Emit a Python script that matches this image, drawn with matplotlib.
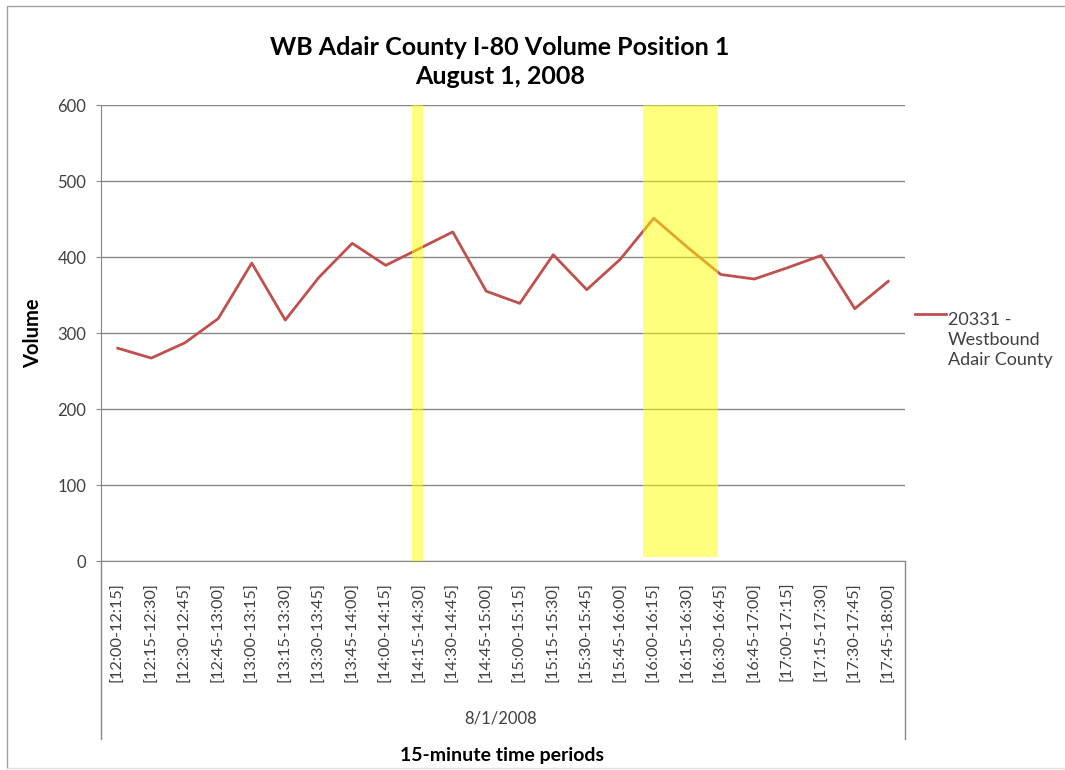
import matplotlib

matplotlib.use("Agg")

import matplotlib.pyplot as plt
from matplotlib.lines import Line2D
from matplotlib.patches import Rectangle

periods = [
    "[12:00-12:15]", "[12:15-12:30]", "[12:30-12:45]", "[12:45-13:00]",
    "[13:00-13:15]", "[13:15-13:30]", "[13:30-13:45]", "[13:45-14:00]",
    "[14:00-14:15]", "[14:15-14:30]", "[14:30-14:45]", "[14:45-15:00]",
    "[15:00-15:15]", "[15:15-15:30]", "[15:30-15:45]", "[15:45-16:00]",
    "[16:00-16:15]", "[16:15-16:30]", "[16:30-16:45]", "[16:45-17:00]",
    "[17:00-17:15]", "[17:15-17:30]", "[17:30-17:45]", "[17:45-18:00]",
]
volume = [280, 267, 287, 319, 392, 317, 373, 418, 389, 411, 433, 355,
          339, 403, 357, 397, 451, 413, 377, 371, 386, 402, 332, 368]
yticks = [0, 100, 200, 300, 400, 500, 600]
# highlighted spans, in category units
highlights = [(8.78, 9.12, 0.0), (15.69, 17.91, 5.0)]

plt.rcParams["font.family"] = ["Lato", "DejaVu Sans"]
W, H = 1065, 770
fig = plt.figure(figsize=(W / 100, H / 100), dpi=100)

# plot area in pixel terms of the reference
left, right, top, bottom = 101, 905, 105, 561
ax = fig.add_axes([left / W, 1 - bottom / H, (right - left) / W, (bottom - top) / H])

x = list(range(len(periods)))
ax.plot(x, volume, color="#C0504D", linewidth=2.0, zorder=3)
for x0, x1, y0 in highlights:
    ax.add_patch(Rectangle((x0, y0), x1 - x0, 600 - y0, facecolor="#FFFF00",
                           alpha=0.5, edgecolor="none", zorder=4, clip_on=False))

ax.set_xlim(-0.5, len(periods) - 0.5)
ax.set_ylim(0, 600)
ax.set_yticks(yticks)
ax.set_xticks(x)
ax.set_xticklabels(periods, rotation=90, fontsize=11.7, color="#404040")
ax.tick_params(axis="x", length=0, pad=15)
ax.tick_params(axis="y", length=3.6, color="#868686", labelsize=12,
               labelcolor="#404040", pad=7)
ax.yaxis.grid(True, color="#868686", linewidth=1.0)
ax.set_axisbelow(True)
for side in ("top", "right"):
    ax.spines[side].set_visible(False)
for side in ("left", "bottom"):
    ax.spines[side].set_color("#868686")

# multi-level category box
box_bottom = (bottom - 739) / (bottom - top)
ax.add_line(Line2D([0, 0], [0, box_bottom], transform=ax.transAxes,
                   color="#868686", linewidth=1.0, clip_on=False))
ax.add_line(Line2D([1, 1], [0, box_bottom], transform=ax.transAxes,
                   color="#868686", linewidth=1.0, clip_on=False))
fig.text(501 / W, 1 - 718 / H, "8/1/2008", ha="center", va="center",
         fontsize=12, color="#404040")

fig.text(500 / W, 1 - 62 / H, "WB Adair County I-80 Volume Position 1\nAugust 1, 2008",
         ha="center", va="center", fontsize=18, fontweight="bold", linespacing=1.35)
fig.text(502 / W, 1 - 755 / H, "15-minute time periods", ha="center", va="center",
         fontsize=14, fontweight="bold")
fig.text(33 / W, 1 - 333 / H, "Volume", ha="center", va="center", rotation=90,
         fontsize=14.5, fontweight="bold")

# legend
fig.add_artist(Line2D([915 / W, 946 / W], [1 - 314 / H, 1 - 314 / H],
                      color="#C0504D", linewidth=2.0))
fig.text(948 / W, 1 - 340 / H, "20331 -\nWestbound\nAdair County", ha="left", va="center",
         fontsize=13, color="#404040", linespacing=1.3)

# outer chart border
fig.add_artist(Line2D([7 / W, 7 / W, 1], [1 - 768 / H, 1 - 6 / H, 1 - 6 / H],
                      color="#A0A0A0", linewidth=1.0))
fig.add_artist(Line2D([7 / W, 1], [1 - 768 / H, 1 - 768 / H],
                      color="#E0E0E0", linewidth=1.0))

fig.savefig("out.png", dpi=100)
